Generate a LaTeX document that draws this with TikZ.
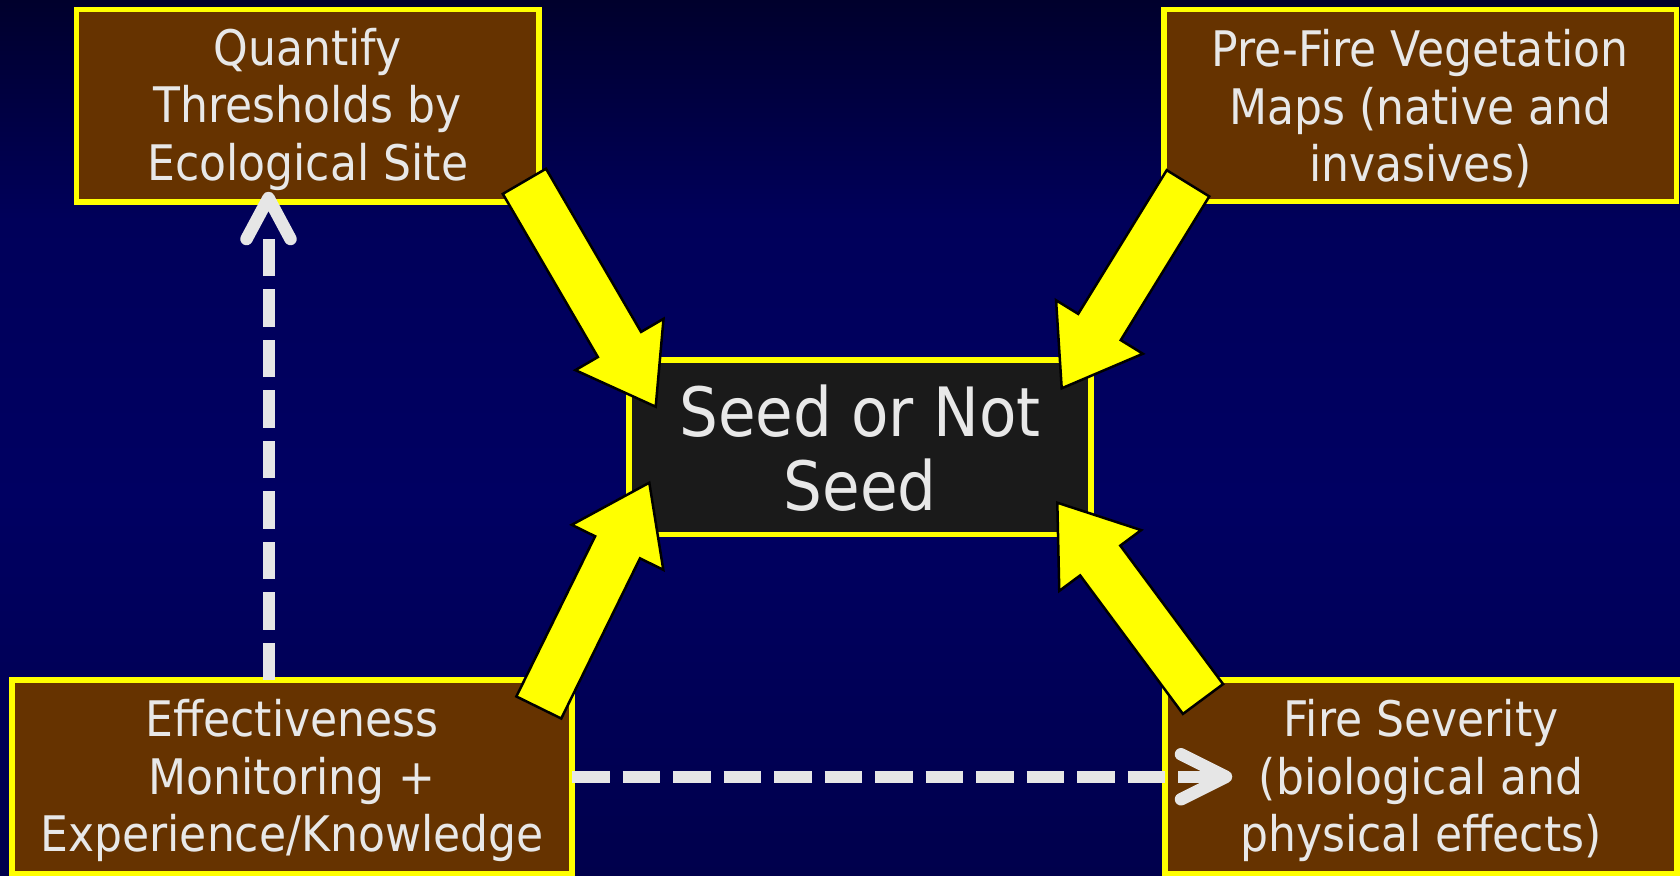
\documentclass[tikz,border=0pt]{standalone}
\usepackage{fontspec}
\setmainfont{DejaVu Sans}[FakeStretch=0.9]
\usetikzlibrary{calc}

\definecolor{bgA}{HTML}{00002C}
\definecolor{bgB}{HTML}{00005A}
\definecolor{bgC}{HTML}{000062}
\definecolor{bgD}{HTML}{00004C}
\definecolor{boxyellow}{HTML}{FFFF00}
\definecolor{boxbrown}{HTML}{663300}
\definecolor{centerfill}{HTML}{1A1A1A}
\definecolor{labelgray}{HTML}{E8E8E8}
\definecolor{dashgray}{HTML}{E6E6E6}

\tikzset{
  box/.style={draw=boxyellow, line width=5.5pt, fill=boxbrown,
    inner sep=0pt, outer sep=0pt},
  boxtext/.style={text=labelgray, align=center, inner sep=0pt,
    font=\fontsize{49}{57.6}\selectfont},
  bigarrow/.style={draw=black, fill=boxyellow, line width=2.5pt, line join=miter},
  dashline/.style={draw=dashgray, line width=12pt, dash pattern=on 37.5pt off 13pt},
  chevron/.style={draw=dashgray, line width=12.5pt, line cap=round, line join=round},
}

% block arrow: shaft 50, head 102 wide and 72 long, from tail #1 to tip #2
\newcommand\blockarrow[2]{%
  \coordinate (ba-n) at ($(#2)!72pt!(#1)$);
  \draw[bigarrow] ($(#1)!25pt!90:(#2)$) -- ($(ba-n)!25pt!90:(#2)$)
    -- ($(ba-n)!51pt!90:(#2)$) -- (#2) -- ($(ba-n)!51pt!-90:(#2)$)
    -- ($(ba-n)!25pt!-90:(#2)$) -- ($(#1)!25pt!-90:(#2)$) -- cycle;
}

\begin{document}
\begin{tikzpicture}[x=1pt, y=-1pt]
\useasboundingbox (0,0) rectangle (1680,875);

% slide background
\fill[top color=bgA, bottom color=bgB] (0,0) rectangle (1680,220);
\fill[top color=bgB, bottom color=bgC] (0,219.5) rectangle (1680,500);
\fill[top color=bgC, bottom color=bgD] (0,499.5) rectangle (1680,875);

% boxes
\node[box, minimum width=462.5pt, minimum height=192.5pt] (tl) at (307.75,105.75) {};
\node[box, minimum width=512.5pt, minimum height=192pt] (tr) at (1420.25,105.5) {};
\node[box, fill=centerfill, minimum width=462pt, minimum height=174.5pt] (seed) at (860,447.25) {};
\node[box, minimum width=560pt, minimum height=193.5pt] (bl) at (292,776.75) {};
\node[box, minimum width=512pt, minimum height=193.5pt] (br) at (1421,776.75) {};

% box captions
\node[boxtext] (tl-t) at ($(tl.center)+(0,3.5)$) {Quantify\\Thresholds by\\Ecological Site};
\node[boxtext] (tr-t) at ($(tr.center)+(0,3.5)$) {Pre-Fire Vegetation\\Maps (native and\\invasives)};
\node[boxtext, font=\fontsize{68}{74}\selectfont] (seed-t) at ($(seed.center)+(0,1)$) {Seed or Not\\Seed};
\node[boxtext] (bl-t) at ($(bl.center)+(0,4)$) {Effectiveness\\Monitoring +\\Experience/Knowledge};
\node[boxtext] (br-t) at ($(br.center)+(0,4)$) {Fire Severity\\(biological and\\physical effects)};

% block arrows into the decision box
\coordinate (a1t) at ($(tl.south east)+(-14.6,-20.7)$);
\coordinate (a1p) at ($(seed.north west)+(26.7,46.7)$);
\coordinate (a2t) at ($(tr.south west)+(24,-18.2)$);
\coordinate (a2p) at ($(seed.north east)+(-29.3,28.3)$);
\coordinate (a3t) at ($(bl.north east)+(-33.2,27.5)$);
\coordinate (a3p) at ($(seed.south west)+(20.3,-51.8)$);
\coordinate (a4t) at ($(br.north west)+(38,19)$);
\coordinate (a4p) at ($(seed.south east)+(-33.7,-31.8)$);
\blockarrow{a1t}{a1p}
\blockarrow{a2t}{a2p}
\blockarrow{a3t}{a3p}
\blockarrow{a4t}{a4p}

% feedback links from monitoring
\coordinate (v0) at ($(bl.north west)+(256.5,0)$);
\coordinate (v1) at ($(tl.south west)+(192,34)$);
\coordinate (vtip) at ($(tl.south west)+(192,-4)$);
\draw[dashline] (v0) -- (v1);
\draw[chevron] ($(vtip)+(-22,41)$) -- (vtip) -- ($(vtip)+(22,41)$);

\coordinate (h1) at ($(br.west)+(55,0)$);
\coordinate (htip) at ($(br.west)+(61,0)$);
\draw[dashline] (bl.east) -- (h1);
\draw[chevron] ($(htip)+(-45,-22.5)$) -- (htip) -- ($(htip)+(-45,22.5)$);
\end{tikzpicture}
\end{document}
